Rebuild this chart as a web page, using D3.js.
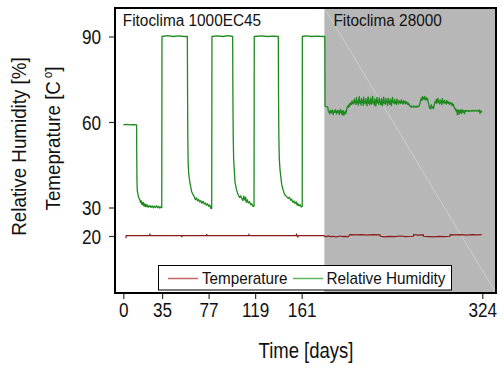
<!DOCTYPE html>
<html><head><meta charset="utf-8">
<script src="https://cdn.jsdelivr.net/npm/d3@7"></script>
<style>body{margin:0;background:#fff} text{font-family:"Liberation Sans",Arial,Helvetica,sans-serif;fill:#111}</style>
</head><body><svg id="c" width="504" height="370"></svg>
<script>
// ---------- data ----------
const xTicks = [0, 35, 77, 119, 161, 324];
const yTicks = [20, 30, 60, 90];
const chamberNames = ["Fitoclima 1000EC45", "Fitoclima 28000"];
const chamberSwitchDay = 181.5;
const seriesNames = ["Temperature", "Relative Humidity"];

// relative humidity [day, %] — first chamber (cycling)
const humidityCycles = [
 [0,59],[3,59.2],[6,59],[9,59.1],[12,59],[12.1,50],[12.3,40],[12.6,36],[13.5,34],[14.2,33.2],[15,32.6],[15.5,31.8],[16,32.4],
 [16.5,31.2],[17,31.9],[17.5,30.9],[18,31.8],[18.5,30.6],[19,31.3],[19.5,30.4],[20,31.2],[20.5,30.3],[21,30.9],[21.5,30.2],
 [22,30.8],[23,30.1],[24,30.7],[25,30.0],[26,30.6],[27,29.9],[28,30.5],[29,30.0],[30,30.6],[31,29.9],[32,30.4],[33,29.8],
 [34,30.3],[34.7,30],
 [34.9,90],[40,90.3],[45,90],[50,90.2],[55,90],[57.8,90],
 [58.0,70],[58.2,55],[58.5,46],[59,42],[60,39],[61.7,35.5],[63,34.5],[64,33.8],[65,32.8],[66,33.4],[67,32.3],[68,32.8],
 [69,31.9],[70,32.4],[71,31.5],[72,32.2],[73,31.2],[74,31.6],[75,30.8],[76,31.3],[77,30.4],[78,30.9],[79,29.7],[79.5,30.4],[79.8,29.6],
 [80,90],[85,90.2],[90,90],[95,90.3],[98.7,90],
 [98.9,70],[99.2,55],[99.6,47],[100.2,43],[100.8,39],[102,36.5],[103,35.2],[103.8,34.4],[105,33.5],[106,34.1],[106.9,33.2],
 [108,32.4],[108.8,34.0],[109.8,32.6],[110.5,33.6],[111,31.8],[112,32.7],[112.8,31.6],[114,32.0],[115,31.0],[115.9,31.3],
 [117,30.4],[118,30.5],
 [118.2,90],[125,90.2],[130,90],[135,90.1],[139.9,90],
 [140.1,70],[140.4,55],[140.8,47],[141.5,43],[143,38],[144,36.5],[145,35.2],[146,34.4],[147,34.0],[148.9,33.2],[150,33.6],
 [151,32.5],[152,32.9],[153,31.8],[154,32.3],[155,31.4],[156,32.0],[157,30.8],[157.5,31.4],[158.5,30.6],[159.5,31.0],
 [160.5,30.2],[161.5,30.4],
 [161.6,90],[165,90.2],[170,90],[175,90.1],[180,90],[181.9,90],
 [182.1,65.5],[184.5,65.3]
];

// relative humidity [day, %] — second chamber (constant set point)
const humidityConstant = [
 [185,64.0],[185.5,63.4],[186,63.7],[186.5,62.8],[187,64.1],[187.5,63.5],[188,63.2],[188.5,64.2],[189,63.8],[189.5,62.6],
 [190,63.5],[190.5,63.9],[191,63.4],[191.5,64.3],[192,63.7],[192.5,62.9],[193,63.6],[193.5,64.1],[194,63.3],[194.5,63.9],
 [195,62.7],[195.5,63.8],[196,64.4],[196.5,63.2],[197,63.9],[197.5,62.5],[198,63.7],[198.5,64.0],[199,62.4],[199.5,63.3],
 [200,62.8],[200.5,63.9],[201,63.1],[201.5,64.2],[202,64.9],[202.5,65.6],[203,65.1],[203.5,66.0],[204,65.4],[204.5,66.5],
 [205,65.9],[205.5,66.8],[206,66.2],[206.5,67.4],[207,66.5],[207.5,67.0],[208,66.3],[208.5,68.1],[209,66.9],[209.5,67.4],
 [210,66.2],[210.5,68.6],[211,66.8],[211.5,67.3],[212,65.9],[212.5,67.7],[213,68.9],[213.5,66.6],[214,67.2],[214.5,66.0],
 [215,68.3],[215.5,66.9],[216,67.5],[216.5,65.8],[217,68.7],[217.5,66.7],[218,67.1],[218.5,66.4],[219,68.2],[219.5,66.8],
 [220,65.7],[220.5,67.6],[221,68.8],[221.5,66.5],[222,67.3],[222.5,66.1],[223,68.4],[223.5,67.0],[224,66.3],[224.5,67.8],
 [225,69.0],[225.5,66.6],[226,67.2],[226.5,65.9],[227,68.1],[227.5,66.8],[228,65.6],[228.5,67.5],[229,68.6],[229.5,66.7],
 [230,67.3],[230.5,66.2],[231,68.5],[231.5,66.9],[232,67.1],[232.5,66.0],[233,68.2],[233.5,66.8],[234,65.7],[234.5,67.4],
 [235,68.7],[235.5,66.6],[236,67.2],[236.5,66.3],[237,68.3],[237.5,66.9],[238,67.0],[238.5,65.9],[239,68.4],[239.5,66.7],
 [240,67.3],[240.5,66.2],[241,68.0],[241.5,66.8],[242,65.8],[242.5,67.5],[243,68.6],[243.5,66.9],[244,67.1],[244.5,66.4],
 [245,67.9],[245.5,66.6],[246,67.2],[246.5,66.1],[247,68.1],[247.5,66.8],[248,67.0],[248.5,66.3],[249,67.6],[249.5,66.9],
 [250,67.2],[250.5,66.5],[251,67.8],[251.5,66.7],[252,67.1],[252.5,66.3],[253,67.5],[253.5,66.8],[254,67.0],[254.5,66.4],
 [255,67.3],[255.5,66.6],[256,66.9],[256.5,66.2],[257,66.7],[257.5,66.0],[258,66.3],[258.5,65.7],[259,65.5],[259.5,65.3],
 [260,65.6],[260.5,65.2],[261,65.4],[261.5,65.5],[262,65.3],[262.5,65.6],[263,65.2],[263.5,65.5],[264,65.4],[264.5,65.3],
 [265,65.6],[265.5,65.2],[266,65.5],[266.5,65.4],[267,65.6],[267.5,66.2],[268,67.0],[268.5,67.8],[269,68.4],[269.5,67.6],
 [270,68.9],[270.5,68.1],[271,68.6],[271.5,67.9],[272,69.0],[272.5,68.2],[273,67.7],[273.5,68.5],[274,67.9],[274.5,68.3],
 [275,67.4],[275.5,66.5],[276,65.6],[276.5,64.8],[277,65.3],[277.5,64.6],[278,66.1],[278.5,65.0],[279,64.9],[279.5,65.4],
 [280,64.7],[280.5,65.8],[281,66.6],[281.5,67.2],[282,66.8],[282.5,67.9],[283,66.5],[283.5,67.4],[284,68.3],[284.5,66.9],
 [285,67.2],[285.5,66.4],[286,67.8],[286.5,66.7],[287,67.3],[287.5,66.1],[288,68.2],[288.5,66.9],[289,67.1],[289.5,66.5],
 [290,67.6],[290.5,66.8],[291,67.0],[291.5,66.3],[292,67.5],[292.5,66.7],[293,67.2],[293.5,66.5],[294,66.9],[294.5,66.2],
 [295,66.8],[295.5,66.4],[296,66.7],[296.5,65.9],[297,66.5],[297.5,65.7],[298,66.1],[298.5,65.3],[299,65.0],[299.5,64.4],
 [300,64.6],[300.5,63.7],[301,64.2],[301.5,62.6],[302,63.8],[302.5,64.3],[303,62.7],[303.5,63.9],[304,64.1],[304.5,63.2],
 [305,64.3],[305.5,63.0],[306,63.9],[306.5,64.2],[307,63.4],[307.5,63.9],[308,62.9],[308.5,64.0],[309,63.7],[309.5,64.1],
 [310,63.8],[310.5,63.9],[311,64.0],[311.5,63.7],[312,64.0],[312.5,63.8],[313,63.9],[313.5,64.0],[314,63.8],[314.5,63.9],
 [315,64.1],[315.5,63.8],[316,63.9],[316.5,64.0],[317,63.8],[317.5,63.9],[318,64.1],[318.5,63.9],[319,63.8],[319.5,64.0],
 [320,63.9],[320.5,64.1],[321,63.7],[321.5,64.2],[322,63.0],[322.5,63.8],[323,63.4],[323.5,64.0]
];

// temperature [day, °C]
const temperature = [
 [2.4,19.2],[2.6,20.1],[23.5,20.1],[24,20.6],[24.5,20.1],[52.5,20.1],[52.8,19.6],[53.1,20.1],[75,20.1],[75.3,20.7],
 [75.6,20.1],[113,20.1],[113.4,20.5],[113.7,20.1],[156,20.1],[156.4,20.8],[156.8,20.0],[157.5,19.7],[158,20.1],
 [180,20.1],[181,20.1],[183,19.7],[185,20.0],[187,19.8],[190,19.9],[192,19.6],[195,20.0],[198,19.8],[200,19.9],
 [203,19.8],[204.6,20.5],[210,20.4],[215,20.5],[220,20.3],[225,20.5],[231.7,20.4],[232,19.9],[236,19.7],[240,19.9],
 [245,19.8],[250,20.0],[255,19.8],[261.7,19.9],[262,20.5],[266,20.3],[270.8,20.4],[271,19.9],[275,19.8],[280,19.7],
 [285,19.9],[290,19.8],[294.9,19.9],[295,20.5],[300,20.4],[305,20.5],[310,20.3],[315,20.5],[320,20.4],[323.5,20.5]
];

// ---------- drawing ----------
const svg = d3.select("#c");
const L = 115, R = 496, T = 8, B = 293;
const x = d3.scaleLinear().domain([-7.5, 336.4]).range([L, R]);
const y = d3.scaleLinear().domain([0, 100]).range([B, T]);

const rhColor = "#1f8a1f", tColor = "#8b1a1a";
const humidity = humidityCycles.concat(humidityConstant);

function squeeze(sel, f) {
  sel.each(function () {
    const n = this.getComputedTextLength();
    this.setAttribute("textLength", n * f);
    this.setAttribute("lengthAdjust", "spacingAndGlyphs");
  });
}

// gray region (second chamber)
svg.append("rect").attr("x", x(chamberSwitchDay)).attr("y", T)
  .attr("width", R - x(chamberSwitchDay)).attr("height", B - T).attr("fill", "#b7b7b7");
svg.append("line").attr("x1", x(chamberSwitchDay)).attr("y1", T).attr("x2", R).attr("y2", B)
  .attr("stroke", "#d4d4d4").attr("stroke-width", 0.8);

const line = d3.line().x(d => x(d[0])).y(d => y(d[1]));
svg.append("path").datum(temperature).attr("d", line).attr("fill", "none")
  .attr("stroke", tColor).attr("stroke-width", 1.2);
svg.append("path").datum(humidity).attr("d", line).attr("fill", "none")
  .attr("stroke", rhColor).attr("stroke-width", 1.3).attr("stroke-linejoin", "round");

// chamber labels
svg.append("text").attr("x", x(0) - 0.5).attr("y", 26).attr("font-size", 16)
  .text(chamberNames[0]).call(squeeze, 0.96);
svg.append("text").attr("x", x(chamberSwitchDay) + 9).attr("y", 26).attr("font-size", 16)
  .text(chamberNames[1]).call(squeeze, 0.96);

// axes
const yAxis = d3.axisLeft(y).tickValues(yTicks).tickSize(6).tickPadding(8);
const gy = svg.append("g").attr("transform", `translate(${L},0)`).call(yAxis);
gy.select(".domain").remove();
gy.selectAll("text").attr("font-size", 19.5).attr("font-family", "Liberation Sans, Arial, sans-serif")
  .attr("fill", "#111").attr("dy", "0.36em").call(squeeze, 0.88);
gy.selectAll("line").attr("stroke", "#333").attr("stroke-width", 1.2);

const xAxis = d3.axisBottom(x).tickValues(xTicks).tickSize(6).tickPadding(4);
const gx = svg.append("g").attr("transform", `translate(0,${B})`).call(xAxis);
gx.select(".domain").remove();
gx.selectAll("text").attr("font-size", 19.5).attr("font-family", "Liberation Sans, Arial, sans-serif")
  .attr("fill", "#111").call(squeeze, 0.88);
gx.selectAll("line").attr("stroke", "#333").attr("stroke-width", 1.2);

// frame
svg.append("rect").attr("x", L).attr("y", T).attr("width", R - L).attr("height", B - T)
  .attr("fill", "none").attr("stroke", "#000").attr("stroke-width", 2);

// axis titles
svg.append("text").attr("x", 306).attr("y", 358).attr("text-anchor", "middle")
  .attr("font-size", 21.5).text("Time [days]").call(squeeze, 0.86);
svg.append("text").attr("transform", "translate(26,146.5) rotate(-90) scale(0.94,1)").attr("text-anchor", "middle")
  .attr("font-size", 20).text("Relative Humidity [%]");
const t2 = svg.append("text").attr("transform", "translate(59.5,138.5) rotate(-90) scale(0.94,1)").attr("text-anchor", "middle")
  .attr("font-size", 20);
t2.append("tspan").text("Temeprature [C");
t2.append("tspan").attr("font-size", 12.5).attr("dx", 3).attr("dy", -8).text("o");
t2.append("tspan").attr("dy", 8).text("]");

// legend
const lg = svg.append("g");
lg.append("rect").attr("x", 158.5).attr("y", 265.5).attr("width", 293).attr("height", 24.5)
  .attr("fill", "#fff").attr("stroke", "#000").attr("stroke-width", 1);
const legendItems = [
  {name: seriesNames[0], color: "#c46464", x1: 168, tx: 202, w: 85.5},
  {name: seriesNames[1], color: "#5cb85c", x1: 293, tx: 326.5, w: 119}
];
legendItems.forEach(it => {
  lg.append("line").attr("x1", it.x1).attr("x2", it.x1 + 30).attr("y1", 278.5).attr("y2", 278.5)
    .attr("stroke", it.color).attr("stroke-width", 1.5);
  lg.append("text").attr("x", it.tx).attr("y", 284).attr("font-size", 17)
    .attr("textLength", it.w).attr("lengthAdjust", "spacingAndGlyphs").text(it.name);
});
</script></body></html>
